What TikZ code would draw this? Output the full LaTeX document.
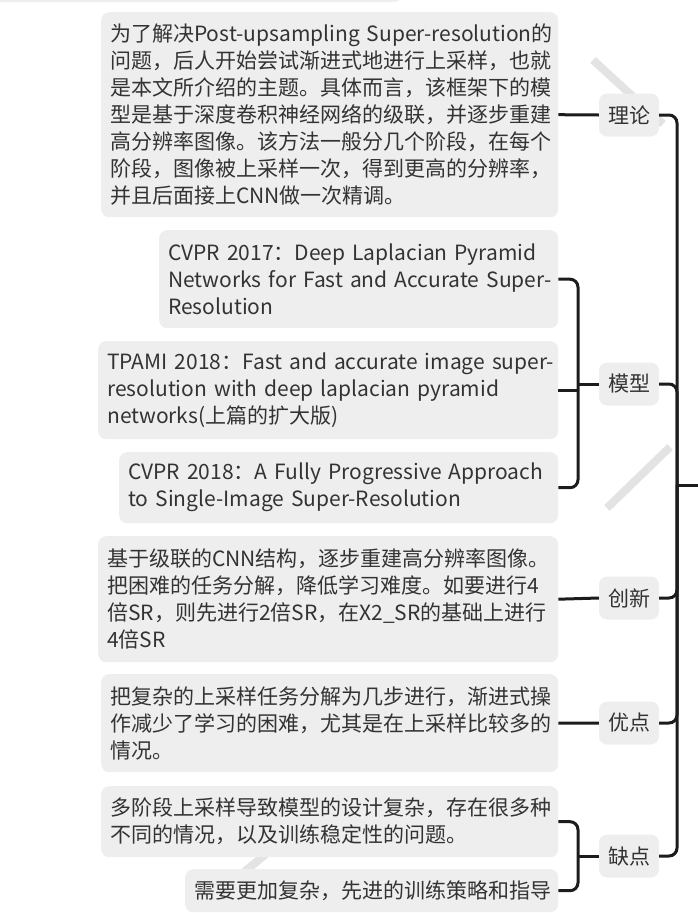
\documentclass[tikz,border=0pt]{standalone}
\usepackage{fontspec}
\setmainfont{Noto Sans CJK SC}
\definecolor{boxgray}{HTML}{EEEEEE}
\definecolor{txt}{HTML}{333333}
\definecolor{linec}{HTML}{1C1C1C}
\definecolor{wmgray}{HTML}{E3E3E3}
\newcommand\oneline[1]{\mbox{#1}}
\begin{document}
\begin{tikzpicture}[x=1pt,y=-1pt,
  leaf/.style={fill=boxgray, rounded corners=8pt, anchor=north west, inner xsep=9pt, inner ysep=0pt, align=left, text=txt, font=\fontsize{21}{27}\selectfont},
  cat/.style={fill=boxgray, rounded corners=8pt, minimum width=60pt, minimum height=43pt, inner sep=0pt, text=txt, font=\fontsize{21}{27}\selectfont},
  conn/.style={draw=linec, line width=3pt, rounded corners=8pt},
  wm/.style={draw=wmgray, line width=8pt}]
\useasboundingbox (0,0) rectangle (698,913);
% faint background strokes
\draw[wm] (593,60) -- (663,124);
\draw[wm] (670,447) -- (607,508);
\draw[wm] (244,872) -- (266,854);
% partial box at the top
\fill[boxgray, rounded corners=8pt] (-10,-20) rectangle (402,2);
% leaves
\node[leaf, text width=439pt, minimum height=205pt] (a) at (101,12) {\oneline{为了解决Post-upsampling Super-resolution的}\\问题，后人开始尝试渐进式地进行上采样，也就\\是本文所介绍的主题。具体而言，该框架下的模\\型是基于深度卷积神经网络的级联，并逐步重建\\高分辨率图像。该方法一般分几个阶段，在每个\\阶段，图像被上采样一次，得到更高的分辨率，\\并且后面接上CNN做一次精调。};
\node[leaf, text width=381pt, minimum height=98pt] (b1) at (159,230) {\oneline{CVPR 2017：Deep Laplacian Pyramid}\\\oneline{Networks for Fast and Accurate Super-}\\\oneline{Resolution}};
\node[leaf, text width=442pt, minimum height=98pt] (b2) at (98,341) {\oneline{TPAMI 2018：Fast and accurate image super-}\\\oneline{resolution with deep laplacian pyramid}\\\oneline{networks(上篇的扩大版)}};
\node[leaf, text width=421pt, minimum height=71pt] (b3) at (119,452) {\oneline{CVPR 2018：A Fully Progressive Approach}\\\oneline{to Single-Image Super-Resolution}};
\node[leaf, text width=442pt, minimum height=126pt] (c) at (98,536) {基于级联的CNN结构，逐步重建高分辨率图像。\\把困难的任务分解，降低学习难度。如要进行4\\倍SR，则先进行2倍SR，在X2\_SR的基础上进行\\4倍SR};
\node[leaf, text width=439pt, minimum height=98pt] (d) at (101,674) {把复杂的上采样任务分解为几步进行，渐进式操\\作减少了学习的困难，尤其是在上采样比较多的\\情况。};
\node[leaf, text width=439pt, minimum height=71pt] (e1) at (101,786) {多阶段上采样导致模型的设计复杂，存在很多种\\不同的情况，以及训练稳定性的问题。};
\node[leaf, text width=355pt, minimum height=43pt] (e2) at (185,869) {需要更加复杂，先进的训练策略和指导};
% categories
\node[cat] (lilun) at (629,115) {理论};
\node[cat] (moxing) at (629,384) {模型};
\node[cat] (chuangxin) at (629,598) {创新};
\node[cat] (youdian) at (629,723) {优点};
\node[cat] (quedian) at (629,856) {缺点};
% helper coordinates
\coordinate (hub) at (677,485);
\coordinate (up) at (698,485);
\coordinate (bk) at (578,0);
% leaf to category connectors
\draw[conn] (a.east) -- (lilun.west);
\draw[conn] (b1.east) -- (b1.east -| bk) -- (b3.east -| bk) -- (b3.east);
\draw[conn] (b2.east) -- (b2.east -| bk);
\draw[conn] (bk |- moxing.west) -- (moxing.west);
\draw[conn] (c.east) -- (chuangxin.west);
\draw[conn] (d.east) -- (youdian.west);
\draw[conn] (e1.east) -- (e1.east -| bk) -- (e2.east -| bk) -- (e2.east);
\draw[conn] (bk |- quedian.west) -- (quedian.west);
% category to parent connectors
\draw[conn] (lilun.east) -- (lilun.east -| hub) -- (hub);
\draw[conn] (moxing.east) -- (moxing.east -| hub) -- (hub);
\draw[conn] (chuangxin.east) -- (chuangxin.east -| hub) -- (hub);
\draw[conn] (youdian.east) -- (youdian.east -| hub) -- (hub);
\draw[conn] (quedian.east) -- (quedian.east -| hub) -- (hub);
\draw[conn] (hub) -- (up);
\end{tikzpicture}
\end{document}
